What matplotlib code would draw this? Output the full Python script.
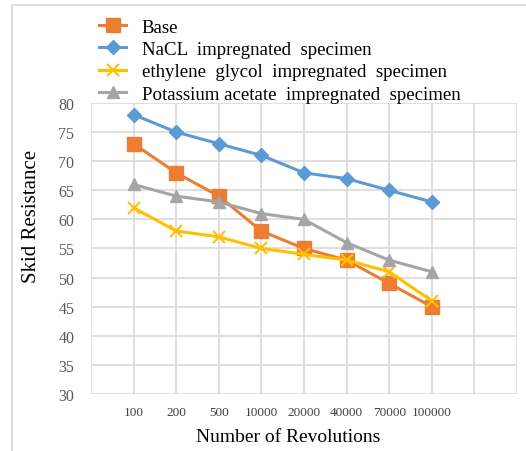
import matplotlib.pyplot as plt

plt.rcParams['font.family'] = ['Liberation Serif', 'DejaVu Serif']

revolutions = ['100', '200', '500', '10000', '20000', '40000', '70000', '100000']
base = [73, 68, 64, 58, 55, 53, 49, 45]
nacl = [78, 75, 73, 71, 68, 67, 65, 63]
glycol = [62, 58, 57, 55, 54, 53, 51, 46]
potassium = [66, 64, 63, 61, 60, 56, 53, 51]

labels = ['Base', 'NaCL  impregnated  specimen',
          'ethylene  glycol  impregnated  specimen',
          'Potassium acetate  impregnated  specimen']
colors = ['#ED7D31', '#5B9BD5', '#FFC000', '#A5A5A5']
markers = ['s', 'D', 'x', '^']
sizes = [10, 7, 8, 9]

W, H = 526, 452
fig = plt.figure(figsize=(W / 100, H / 100), dpi=100)
ax = fig.add_axes([91 / W, 1 - 395 / H, 426 / W, 291 / H])

# outer chart border (left and top visible)
fig.add_artist(plt.Line2D([12 / W, 12 / W], [0, 1 - 6 / H], transform=fig.transFigure,
                          color='#D9D9D9', lw=1.2))
fig.add_artist(plt.Line2D([12 / W, 1], [1 - 6 / H, 1 - 6 / H], transform=fig.transFigure,
                          color='#D9D9D9', lw=1.2))

x = list(range(len(revolutions)))
handles = []
for ys, c, m, s, lab in zip([base, nacl, glycol, potassium], colors, markers, sizes, labels):
    mew = 1.5 if m == 'x' else 1
    h, = ax.plot(x, ys, color=c, lw=2.2, marker=m, markersize=s, markeredgewidth=mew,
                 markeredgecolor=c, label=lab, zorder=3)
    handles.append(h)

ax.set_xlim(-1, 9)
ax.set_ylim(30, 80)
ticks = list(range(-1, 10))
ax.set_xticks(ticks)
ax.set_xticklabels([revolutions[t] if 0 <= t < len(revolutions) else '' for t in ticks],
                   fontsize=9.5, color='#404040')
ax.set_yticks(range(30, 81, 5))
ax.tick_params(axis='y', labelsize=11.5, colors='#595959', length=0, pad=12)
ax.tick_params(axis='x', length=0, pad=9, colors='#404040')
ax.grid(True, color='#D9D9D9', lw=1.2)
for sp in ax.spines.values():
    sp.set_visible(False)
ax.set_axisbelow(True)

fig.text(32 / W, 1 - 216 / H, 'Skid Resistance', fontsize=15, rotation=90,
         ha='center', va='center')
fig.text(288 / W, 1 - 438 / H, 'Number of Revolutions', fontsize=14,
         ha='center', va='center')

leg = fig.legend(handles=handles, loc='upper left', bbox_to_anchor=(90 / W, 1 - 10 / H),
                 frameon=False, fontsize=13.6, handlelength=1.4, handletextpad=0.85,
                 labelspacing=0.27, borderpad=0)

fig.savefig('out.png', dpi=100)
